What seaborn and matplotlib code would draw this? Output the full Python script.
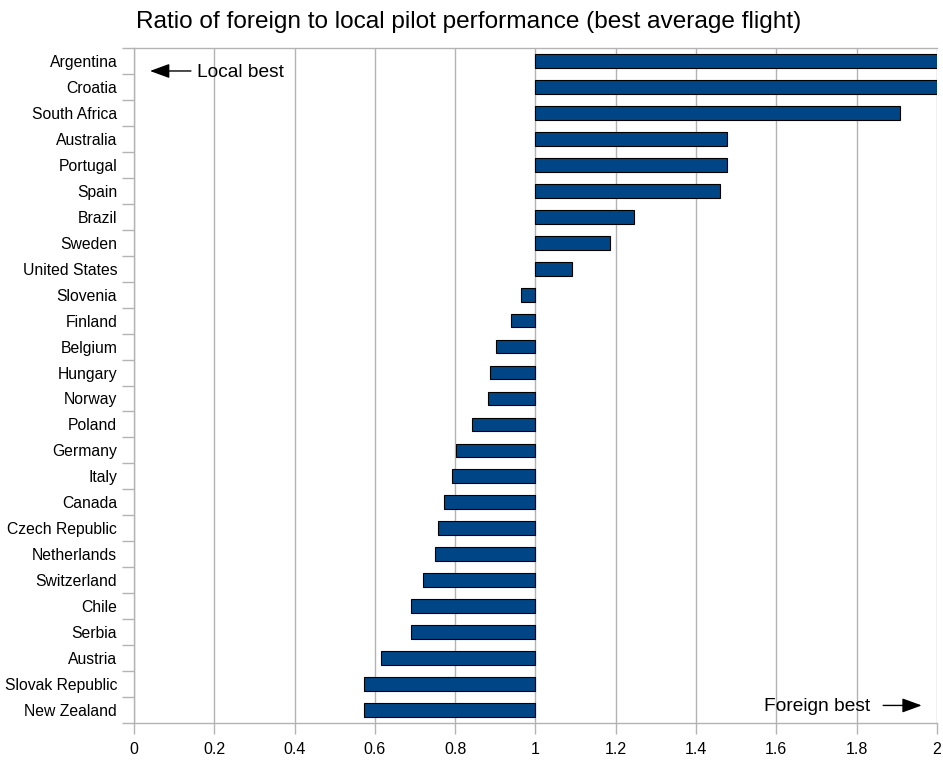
import numpy as np
import pandas as pd
import matplotlib
matplotlib.use("Agg")
import matplotlib.pyplot as plt
import seaborn as sns

countries = ["Argentina", "Croatia", "South Africa", "Australia", "Portugal", "Spain",
             "Brazil", "Sweden", "United States", "Slovenia", "Finland", "Belgium",
             "Hungary", "Norway", "Poland", "Germany", "Italy", "Canada",
             "Czech Republic", "Netherlands", "Switzerland", "Chile", "Serbia",
             "Austria", "Slovak Republic", "New Zealand"]
ratio = [2.0, 2.0, 1.907, 1.478, 1.478, 1.460,
         1.245, 1.186, 1.091, 0.963, 0.938, 0.901,
         0.886, 0.882, 0.843, 0.801, 0.791, 0.772,
         0.757, 0.750, 0.720, 0.690, 0.690,
         0.616, 0.573, 0.573]
x_ticks = [0, 0.2, 0.4, 0.6, 0.8, 1, 1.2, 1.4, 1.6, 1.8, 2]
x_labels = ["0", "0.2", "0.4", "0.6", "0.8", "1", "1.2", "1.4", "1.6", "1.8", "2"]
base = 1.0

df = pd.DataFrame({"country": countries, "ratio": ratio})
df["diff"] = df["ratio"] - base

sns.set_style("white")
plt.rcParams["font.family"] = ["Liberation Sans", "DejaVu Sans"]
plt.rcParams["text.color"] = "black"
plt.rcParams["xtick.color"] = "black"
plt.rcParams["ytick.color"] = "black"

fig = plt.figure(figsize=(9.43, 7.6), dpi=100)
ax = fig.add_axes([0.142, 0.0487, 0.8516, 0.8881])

# bars start at the base value 1
sns.barplot(data=df, x="diff", y="country", orient="h", color="#004586",
            saturation=1, width=0.53, left=base, edgecolor="black",
            linewidth=0.8, ax=ax, zorder=3)

ax.set_xlim(0, 2)
ax.set_ylim(len(countries) - 0.5, -0.5)
ax.set_xticks(x_ticks)
ax.set_xticklabels(x_labels, fontsize=11.5)
ax.xaxis.grid(True, color="#b3b3b3", linewidth=1)
ax.set_axisbelow(True)
ax.set_xlabel("")
ax.set_ylabel("")

# y labels between boundary ticks
ax.set_yticks(np.arange(len(countries)))
ax.set_yticklabels(countries, fontsize=11.3)
ax.set_yticks(np.arange(len(countries) + 1) - 0.5, minor=True)
ax.tick_params(axis="y", which="major", left=True, length=0, pad=12,
               labelcolor="black")
ax.tick_params(axis="y", which="minor", left=True, length=9,
               color="#b3b3b3", width=1)
ax.tick_params(axis="x", bottom=True, length=8, color="#b3b3b3", width=1,
               pad=6, labelcolor="black")

for side in ["left", "bottom", "top"]:
    ax.spines[side].set_color("#b3b3b3")
    ax.spines[side].set_linewidth(1)
ax.spines["right"].set_visible(False)

arrow = dict(arrowstyle="-|>,head_length=0.6,head_width=0.22", color="black",
             lw=1, mutation_scale=20, shrinkA=0, shrinkB=0)
ax.annotate("", xy=(0.02, 0.966), xytext=(0.071, 0.966),
            xycoords="axes fraction", arrowprops=arrow)
ax.text(0.079, 0.964, "Local best", transform=ax.transAxes, fontsize=13.8,
        va="center", ha="left", color="black")
ax.text(0.917, 0.024, "Foreign best", transform=ax.transAxes, fontsize=13.8,
        va="center", ha="right", color="black")
ax.annotate("", xy=(0.981, 0.026), xytext=(0.933, 0.026),
            xycoords="axes fraction", arrowprops=arrow)

fig.suptitle("Ratio of foreign to local pilot performance (best average flight)",
             fontsize=17.6, x=0.497, y=0.985, color="black")

fig.savefig("out.png", dpi=100)
